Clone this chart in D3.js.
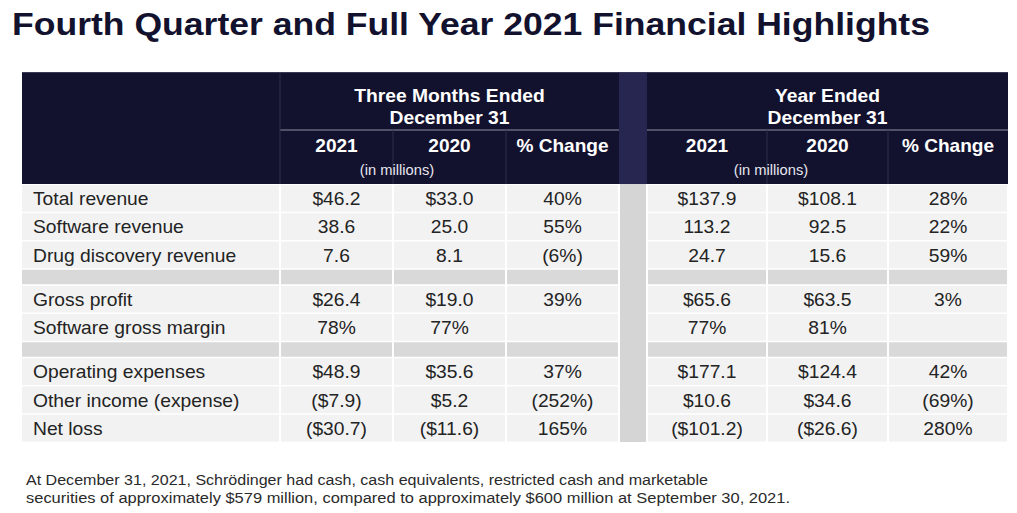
<!DOCTYPE html>
<html>
<head>
<meta charset="utf-8">
<script src="https://cdn.jsdelivr.net/npm/d3@7"></script>
<style>
  html, body { margin: 0; padding: 0; background: #fff; }
  svg { display: block; font-family: "Liberation Sans", Arial, sans-serif; }
</style>
</head>
<body>
<svg id="chart" width="1017" height="513"></svg>
<script>
// ---------- DATA ----------
const title = "Fourth Quarter and Full Year 2021 Financial Highlights";
const groupTitles = [["Three Months Ended", "December 31"], ["Year Ended", "December 31"]];
const subHeaders = ["2021", "2020", "% Change"];
const unitsNote = "(in millions)";
const rowLabels = ["Total revenue", "Software revenue", "Drug discovery revenue", "",
  "Gross profit", "Software gross margin", "",
  "Operating expenses", "Other income (expense)", "Net loss"];
const rowKinds = ["data", "data", "data", "spacer", "data", "data", "spacer", "data", "data", "data"];
const q2021 = ["$46.2", "38.6", "7.6", "", "$26.4", "78%", "", "$48.9", "($7.9)", "($30.7)"];
const q2020 = ["$33.0", "25.0", "8.1", "", "$19.0", "77%", "", "$35.6", "$5.2", "($11.6)"];
const qChange = ["40%", "55%", "(6%)", "", "39%", "", "", "37%", "(252%)", "165%"];
const y2021 = ["$137.9", "113.2", "24.7", "", "$65.6", "77%", "", "$177.1", "$10.6", "($101.2)"];
const y2020 = ["$108.1", "92.5", "15.6", "", "$63.5", "81%", "", "$124.4", "$34.6", "($26.6)"];
const yChange = ["28%", "22%", "59%", "", "3%", "", "", "42%", "(69%)", "280%"];
const footnote = [
  "At December 31, 2021, Schrödinger had cash, cash equivalents, restricted cash and marketable",
  "securities of approximately $579 million, compared to approximately $600 million at September 30, 2021."
];

// ---------- LAYOUT ----------
const colKeys = ["label", "q21", "q20", "qch", "sep", "y21", "y20", "ych"];
const colEdges = [22, 280, 393, 506, 619, 647, 767, 888, 1008];
const colValues = { q21: q2021, q20: q2020, qch: qChange, y21: y2021, y20: y2020, ych: yChange };
const xLeft = d3.scaleOrdinal().domain(colKeys).range(colEdges.slice(0, -1));
const xRight = d3.scaleOrdinal().domain(colKeys).range(colEdges.slice(1));
const xMid = k => (xLeft(k) + xRight(k)) / 2;

const headTop = 72, headMid = 130, bodyTop = 184, bodyBottom = 442;
const rowUnits = rowKinds.map(k => k === "spacer" ? 0.566 : 1);
const cum = [0, ...d3.cumsum(rowUnits)];
const y = d3.scaleLinear().domain([0, cum[cum.length - 1]]).range([bodyTop, bodyBottom]);
const rows = rowLabels.map((lab, i) => ({ i, lab, kind: rowKinds[i], y0: y(cum[i]), y1: y(cum[i + 1]) }));

const navy = "#13122e";
const navySep = "#272650";
const cellBg = "#f2f2f2";
const spacerBg = "#d9d9d9";
const sepBg = "#d5d5d5";
const textCol = "#232323";
const fs = 18.5;

const svg = d3.select("#chart");

// widen text horizontally by a factor (reference glyphs are slightly wide)
function stretch(sel, f) {
  sel.each(function () {
    const w = this.getComputedTextLength();
    d3.select(this).attr("textLength", w * f).attr("lengthAdjust", "spacingAndGlyphs");
  });
  return sel;
}

// Title
svg.append("text").attr("x", 12).attr("y", 35)
  .attr("font-size", 30.5).attr("font-weight", "bold").attr("fill", navy)
  .attr("textLength", 918).attr("lengthAdjust", "spacingAndGlyphs")
  .text(title);

// Header background
svg.append("rect").attr("x", colEdges[0]).attr("y", headTop)
  .attr("width", colEdges[colEdges.length - 1] - colEdges[0]).attr("height", bodyTop - headTop)
  .attr("fill", navy);
svg.append("rect").attr("x", xLeft("sep")).attr("y", headTop)
  .attr("width", xRight("sep") - xLeft("sep")).attr("height", bodyTop - headTop)
  .attr("fill", navySep);

// Header lines
const hl = svg.append("g").attr("stroke", "#8d8da3").attr("stroke-width", 1.2);
[["q21", "qch"], ["y21", "ych"]].forEach(([a, b]) => {
  hl.append("line").attr("x1", xLeft(a)).attr("x2", xRight(b)).attr("y1", headMid).attr("y2", headMid);
});
const vl = svg.append("g").attr("stroke", "#2f2e4c").attr("stroke-width", 1);
vl.append("line").attr("x1", xLeft("q21")).attr("x2", xLeft("q21")).attr("y1", headTop).attr("y2", bodyTop);
["q20", "qch", "y20", "ych"].forEach(k => {
  vl.append("line").attr("x1", xLeft(k)).attr("x2", xLeft(k)).attr("y1", headMid).attr("y2", bodyTop);
});
svg.append("line").attr("x1", colEdges[0]).attr("x2", colEdges[colEdges.length - 1])
  .attr("y1", headTop + 0.5).attr("y2", headTop + 0.5).attr("stroke", "#3a3958").attr("stroke-width", 1);

// Header text
const groups = [["q21", "qch"], ["y21", "ych"]];
groups.forEach(([a, b], gi) => {
  const cx = (xLeft(a) + xRight(b)) / 2;
  groupTitles[gi].forEach((t, li) => {
    stretch(svg.append("text").attr("x", cx).attr("y", 102 + li * 22)
      .attr("text-anchor", "middle").attr("font-size", 18).attr("font-weight", "bold")
      .attr("fill", "#fff").text(t), 1.07);
  });
});
[["q21", "q20", "qch"], ["y21", "y20", "ych"]].forEach(keys => {
  keys.forEach((k, j) => {
    stretch(svg.append("text").attr("x", xMid(k)).attr("y", 152)
      .attr("text-anchor", "middle").attr("font-size", 18.5).attr("font-weight", "bold")
      .attr("fill", "#fff").text(subHeaders[j]), 1.03);
  });
  stretch(svg.append("text").attr("x", xRight(keys[0]) + 4).attr("y", 175)
    .attr("text-anchor", "middle").attr("font-size", 14).attr("fill", "#e6e6ee")
    .text(unitsNote), 1.05);
});

// Body cells
const body = svg.append("g");
const cellKeys = colKeys.filter(k => k !== "sep");
rows.forEach(r => {
  cellKeys.forEach(k => {
    body.append("rect")
      .attr("x", xLeft(k) + (k === "label" ? 0 : 1))
      .attr("y", r.y0 + 1)
      .attr("width", xRight(k) - xLeft(k) - (k === "label" ? 1 : 2))
      .attr("height", r.y1 - r.y0 - 1.5)
      .attr("fill", r.kind === "spacer" ? spacerBg : cellBg);
  });
});
body.append("rect").attr("x", xLeft("sep") + 1).attr("y", bodyTop)
  .attr("width", xRight("sep") - xLeft("sep") - 2).attr("height", bodyBottom - bodyTop)
  .attr("fill", sepBg);

// Body text
const txt = svg.append("g").attr("font-size", fs).attr("fill", textCol);
rows.filter(r => r.kind === "data").forEach(r => {
  const by = (r.y0 + r.y1) / 2 + 7;
  stretch(txt.append("text").attr("x", 33).attr("y", by).text(r.lab), 1.04);
  Object.keys(colValues).forEach(k => {
    const v = colValues[k][r.i];
    if (v) stretch(txt.append("text").attr("x", xMid(k)).attr("y", by).attr("text-anchor", "middle").text(v), 1.04);
  });
});

// Footnote
const fnLens = [682, 764];
footnote.forEach((t, i) => {
  svg.append("text").attr("x", 26).attr("y", 485 + i * 18)
    .attr("font-size", 15.5).attr("fill", "#2a2a2a")
    .attr("textLength", fnLens[i]).attr("lengthAdjust", "spacingAndGlyphs")
    .text(t);
});
</script>
</body>
</html>
